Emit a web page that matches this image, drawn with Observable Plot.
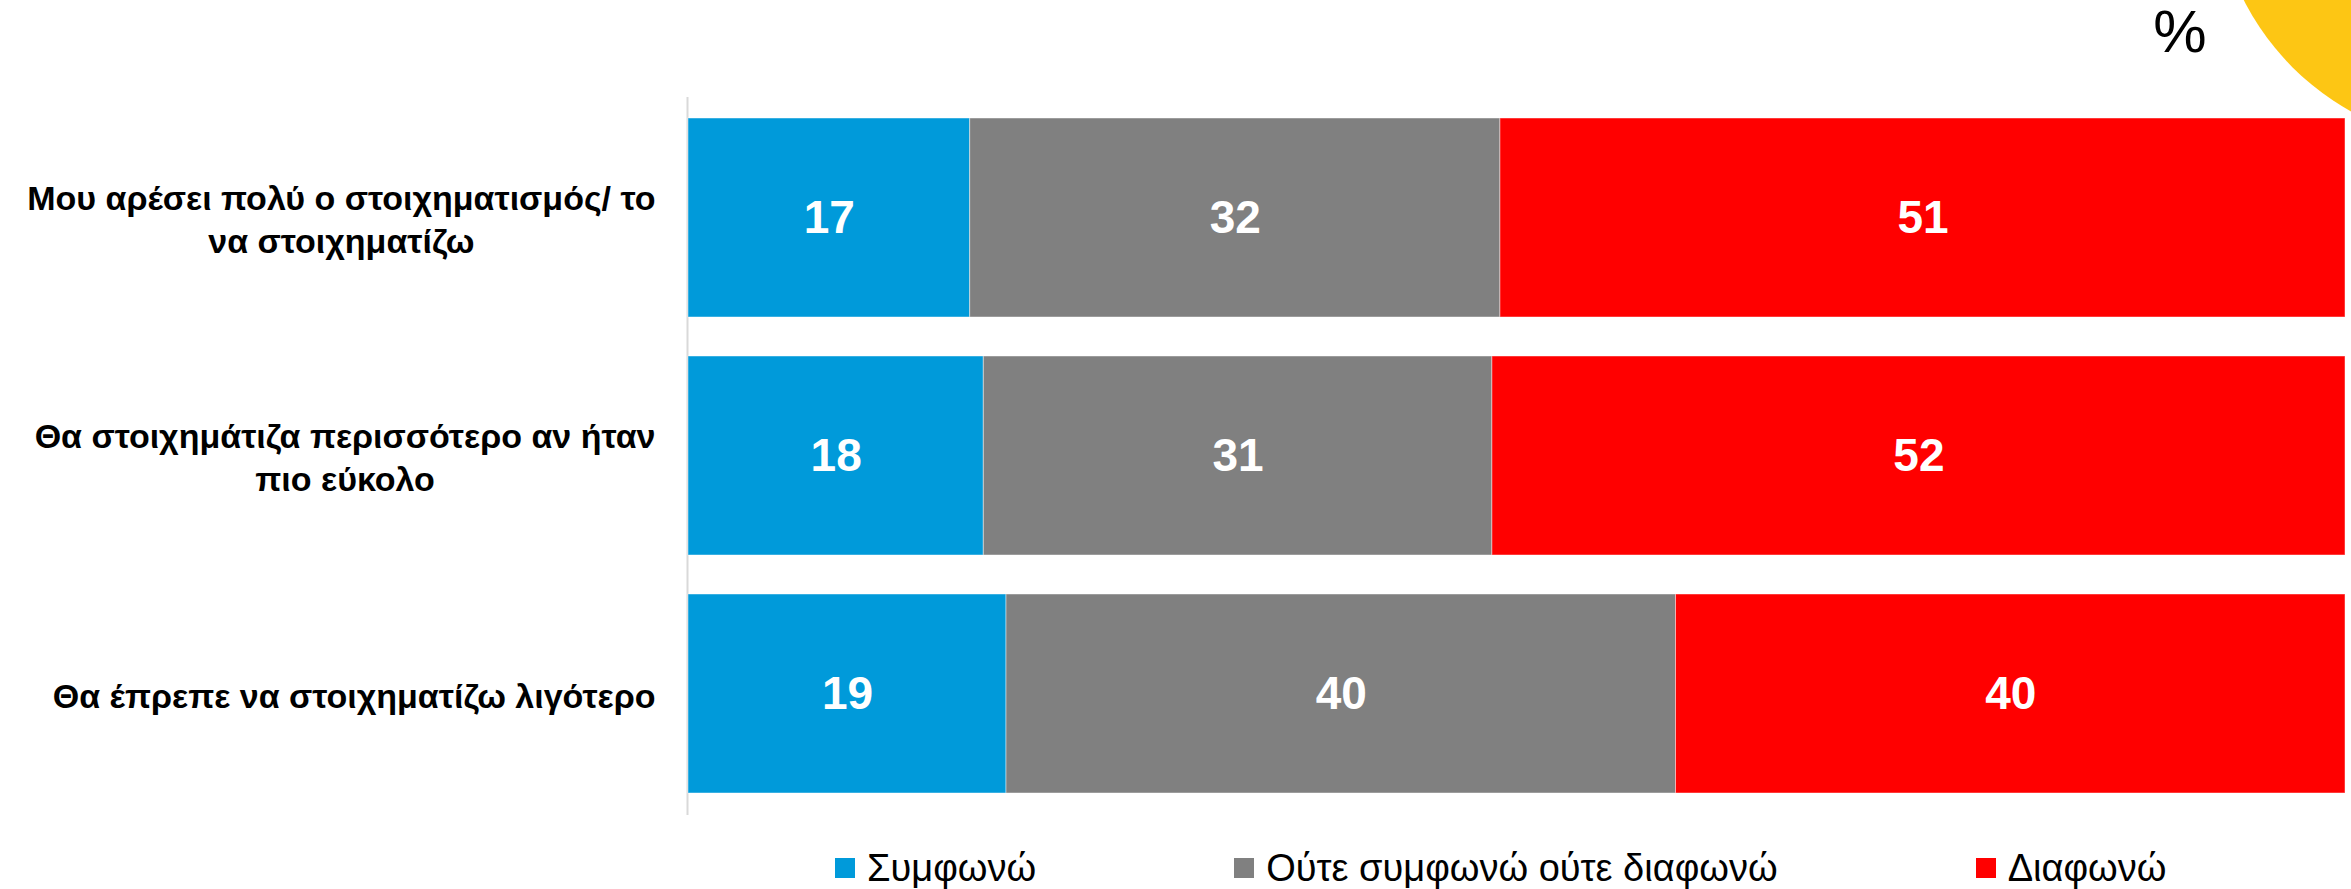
<!DOCTYPE html>
<html>
<head>
<meta charset="utf-8">
<script src="https://cdn.jsdelivr.net/npm/d3@7"></script>
<script src="https://cdn.jsdelivr.net/npm/@observablehq/plot@0.6"></script>
<style>
  html, body { margin: 0; padding: 0; background: #fff; }
  body { width: 2351px; height: 889px; position: relative; overflow: hidden; font-family: "Liberation Sans", Arial, sans-serif; }
  #chart { position: absolute; left: 0; top: 0; }
  #circle { position: absolute; left: 2215px; top: -385px; width: 530px; height: 530px; border-radius: 50%; background: #FDC614; }
  #pct { position: absolute; left: 2180px; top: 2px; transform: translateX(-50%); font-size: 60px; line-height: 60px; color: #000; }
  #legend { position: absolute; left: 835px; top: 847px; display: flex; gap: 198px; font-size: 38px; line-height: 42px; color: #000; }
  #legend .item { display: flex; align-items: center; white-space: nowrap; }
  #legend .sw { width: 20px; height: 20px; margin-right: 12px; }
</style>
</head>
<body>
<div id="circle"></div>
<div id="pct">%</div>
<div id="chart"></div>
<div id="legend"></div>
<script>
// Categories (rows) and their wrapped tick labels
const categories = [
  "Μου αρέσει πολύ ο στοιχηματισμός/ το να στοιχηματίζω",
  "Θα στοιχημάτιζα περισσότερο αν ήταν πιο εύκολο",
  "Θα έπρεπε να στοιχηματίζω λιγότερο"
];
const tickLabels = [
  "Μου αρέσει πολύ ο στοιχηματισμός/ το\nνα στοιχηματίζω",
  "Θα στοιχημάτιζα περισσότερο αν ήταν\nπιο εύκολο",
  "Θα έπρεπε να στοιχηματίζω λιγότερο"
];
// Series
const seriesNames = ["Συμφωνώ", "Ούτε συμφωνώ ούτε διαφωνώ", "Διαφωνώ"];
const agree = [17, 18, 19];
const neither = [32, 31, 40];
const disagree = [51, 52, 40];
const seriesColors = ["#009ADA", "#808080", "#FF0000"];

const seriesValues = [agree, neither, disagree];
const data = [];
categories.forEach((c, i) => {
  seriesNames.forEach((s, j) => {
    data.push({category: c, series: s, value: seriesValues[j][i]});
  });
});
const labelOf = new Map(categories.map((c, i) => [c, tickLabels[i]]));

const chart = Plot.plot({
  width: 2351,
  height: 840,
  marginLeft: 688,
  marginRight: 6,
  marginTop: 97,
  marginBottom: 25,
  style: {fontFamily: "'Liberation Sans', Arial, sans-serif", background: "transparent"},
  x: {axis: null},
  y: {domain: categories, axis: null, paddingInner: 0.163, paddingOuter: 0.084},
  color: {domain: seriesNames, range: seriesColors},
  marks: [
    Plot.ruleX([0], {stroke: "#d9d9d9", strokeWidth: 2, dx: -1}),
    Plot.barX(data, Plot.stackX({
      x: "value", y: "category", fill: "series", z: "series", offset: "normalize",
      stroke: "#ffffff", strokeOpacity: 0.45, strokeWidth: 1
    })),
    Plot.text(data, Plot.stackX({
      x: "value", y: "category", z: "series", offset: "normalize",
      text: d => String(d.value), fill: "white", fontSize: 46, fontWeight: "bold"
    })),
    Plot.text(categories, {
      y: d => d, text: d => labelOf.get(d), frameAnchor: "left", dx: -33,
      textAnchor: "end", lineAnchor: "middle", lineHeight: 1.26,
      fontSize: 34, fontWeight: "bold", fill: "#000", className: "ylabels"
    })
  ]
});
document.getElementById("chart").appendChild(chart);

// center each wrapped line within its right-aligned label block
chart.querySelectorAll("g.ylabels text").forEach(t => {
  const w = t.getBBox().width;
  t.setAttribute("text-anchor", "middle");
  const tr = t.getAttribute("transform") || "";
  t.setAttribute("transform", tr + ` translate(${-w / 2},0)`);
});

// legend
const legend = document.getElementById("legend");
seriesNames.forEach((s, i) => {
  const item = document.createElement("div");
  item.className = "item";
  const sw = document.createElement("span");
  sw.className = "sw";
  sw.style.background = seriesColors[i];
  const tx = document.createElement("span");
  tx.textContent = s;
  item.appendChild(sw);
  item.appendChild(tx);
  legend.appendChild(item);
});
</script>
</body>
</html>
